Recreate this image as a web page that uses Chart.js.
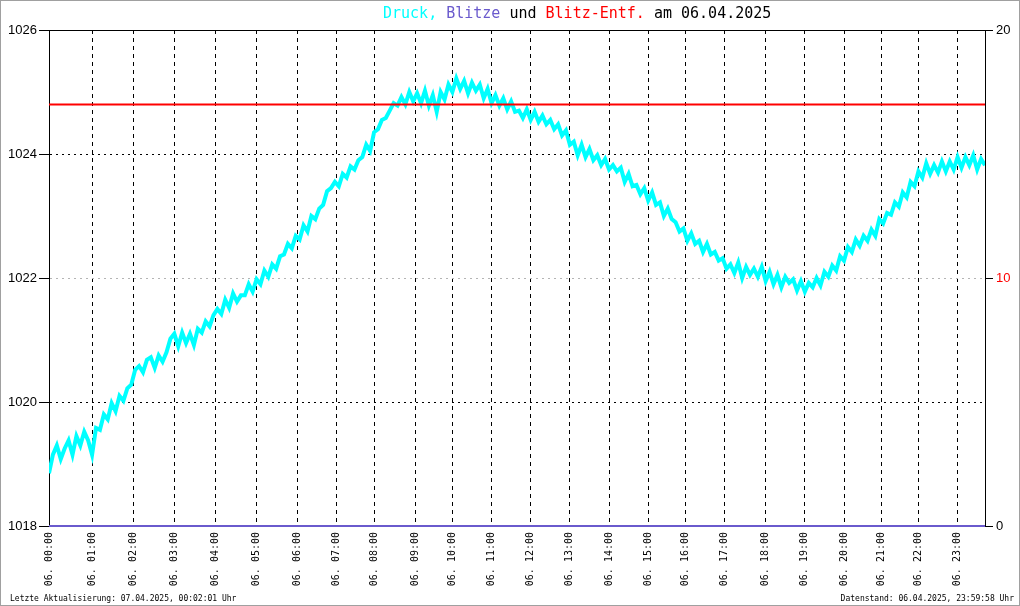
<!DOCTYPE html>
<html>
<head>
<meta charset="utf-8">
<script src="https://cdn.jsdelivr.net/npm/chart.js@4.4.1/dist/chart.umd.min.js"></script>
<style>
  html, body { margin: 0; padding: 0; background: #fff; }
  #wrap { position: relative; width: 1020px; height: 606px; box-sizing: border-box; border: 1px solid #a0a0a0; }
  canvas { display: block; }
</style>
</head>
<body>
<div id="wrap"><canvas id="chart" width="1018" height="604"></canvas></div>
<script>
// Luftdruck (hPa), one sample per ~3.9 px
const pressure = [
  1018.85, 1019.15, 1019.30, 1019.08, 1019.25, 1019.38, 1019.15, 1019.45, 1019.30, 1019.52,
  1019.38, 1019.15, 1019.58, 1019.55, 1019.80, 1019.72, 1019.98, 1019.85, 1020.10, 1020.02,
  1020.22, 1020.28, 1020.52, 1020.58, 1020.48, 1020.68, 1020.72, 1020.55, 1020.75, 1020.65,
  1020.80, 1021.02, 1021.10, 1020.90, 1021.12, 1020.95, 1021.10, 1020.92, 1021.18, 1021.12,
  1021.30, 1021.22, 1021.40, 1021.50, 1021.42, 1021.65, 1021.52, 1021.75, 1021.62, 1021.72,
  1021.72, 1021.90, 1021.78, 1021.98, 1021.90, 1022.12, 1022.02, 1022.22, 1022.15, 1022.35,
  1022.38, 1022.55, 1022.48, 1022.68, 1022.62, 1022.85, 1022.75, 1023.00, 1022.95, 1023.12,
  1023.18, 1023.40, 1023.45, 1023.55, 1023.48, 1023.68, 1023.62, 1023.80, 1023.75, 1023.90,
  1023.95, 1024.15, 1024.05, 1024.35, 1024.40, 1024.55, 1024.58, 1024.70, 1024.82, 1024.78,
  1024.92, 1024.80, 1025.00, 1024.85, 1024.98, 1024.82, 1025.02, 1024.78, 1024.95, 1024.68,
  1025.00, 1024.88, 1025.12, 1025.00, 1025.22, 1025.05, 1025.18, 1024.98, 1025.15, 1025.02,
  1025.12, 1024.90, 1025.05, 1024.82, 1024.95, 1024.78, 1024.90, 1024.72, 1024.85, 1024.68,
  1024.70, 1024.58, 1024.72, 1024.55, 1024.68, 1024.52, 1024.62, 1024.48, 1024.55, 1024.40,
  1024.48, 1024.30, 1024.38, 1024.15, 1024.20, 1023.98, 1024.15, 1023.95, 1024.08, 1023.90,
  1023.98, 1023.82, 1023.92, 1023.75, 1023.82, 1023.72, 1023.78, 1023.55, 1023.68, 1023.48,
  1023.50, 1023.35, 1023.45, 1023.25, 1023.38, 1023.18, 1023.22, 1023.00, 1023.12, 1022.95,
  1022.90, 1022.75, 1022.80, 1022.60, 1022.72, 1022.55, 1022.60, 1022.42, 1022.55, 1022.38,
  1022.42, 1022.28, 1022.32, 1022.15, 1022.22, 1022.08, 1022.25, 1022.00, 1022.18, 1022.05,
  1022.15, 1022.02, 1022.18, 1021.95, 1022.10, 1021.90, 1022.05, 1021.85, 1022.02, 1021.92,
  1021.98, 1021.80, 1021.95, 1021.78, 1021.92, 1021.85, 1022.00, 1021.88, 1022.10, 1022.02,
  1022.20, 1022.12, 1022.35, 1022.28, 1022.50, 1022.42, 1022.62, 1022.52, 1022.68, 1022.60,
  1022.78, 1022.68, 1022.95, 1022.88, 1023.05, 1023.02, 1023.22, 1023.15, 1023.38, 1023.30,
  1023.55, 1023.48, 1023.72, 1023.62, 1023.85, 1023.68, 1023.82, 1023.70, 1023.88, 1023.72,
  1023.88, 1023.75, 1023.95, 1023.78, 1023.95, 1023.82, 1023.98, 1023.75, 1023.92, 1023.82
];
const blitze = 0;        // keine Blitze
const blitzEntf = 17;    // Blitz-Entfernung (rechte Achse)

// hour marks, as sample index where each hour starts
const hourPos = [0, 11, 21.5, 32, 42.5, 53, 63.5, 73.5, 83, 93.5, 103, 113,
                 123, 133, 143, 153, 162.5, 172.5, 183, 193, 203, 212.5, 222, 232];
const hourLabels = ['00','01','02','03','04','05','06','07','08','09','10','11',
                    '12','13','14','15','16','17','18','19','20','21','22','23'].map(h => '06. ' + h + ':00');

const leftTicks = [1018, 1020, 1022, 1024, 1026];
const rightTicks = [0, 10, 20];

const lastIdx = pressure.length - 1;
const mono = '"DejaVu Sans Mono", monospace';
const sans = '"Liberation Sans", Arial, sans-serif';

const frameText = {
  id: 'frameText',
  afterDraw(chart) {
    const ctx = chart.ctx;
    const a = chart.chartArea;
    ctx.save();
    // top border of plot
    ctx.strokeStyle = '#000';
    ctx.lineWidth = 1;
    ctx.beginPath();
    ctx.moveTo(a.left, a.top + 0.5);
    ctx.lineTo(a.right, a.top + 0.5);
    ctx.stroke();

    // coloured title
    const parts = [
      ['Druck, ', '#00ffff'], ['Blitze ', '#6a5acd'], ['und ', '#000'],
      ['Blitz-Entf. ', '#ff0000'], ['am 06.04.2025', '#000']
    ];
    ctx.font = '15px ' + mono;
    ctx.textBaseline = 'middle';
    let x = 382;
    parts.forEach(([t, c]) => {
      ctx.fillStyle = c;
      ctx.fillText(t, x, 13);
      x += ctx.measureText(t).width;
    });

    // footer
    ctx.font = '8px ' + mono;
    ctx.fillStyle = '#000';
    ctx.textAlign = 'left';
    ctx.fillText('Letzte Aktualisierung: 07.04.2025, 00:02:01 Uhr', 9, 598);
    ctx.textAlign = 'right';
    ctx.fillText('Datenstand: 06.04.2025, 23:59:58 Uhr', 1013, 598);
    ctx.restore();
  }
};

const ctx = document.getElementById('chart').getContext('2d');
new Chart(ctx, {
  type: 'line',
  data: {
    datasets: [{
      label: 'Blitz-Entf.',
      data: [{ x: 0, y: blitzEntf }, { x: lastIdx, y: blitzEntf }],
      yAxisID: 'y2',
      borderColor: '#ff0000',
      borderWidth: 2,
      pointRadius: 0
    }, {
      label: 'Blitze',
      data: [{ x: 0, y: blitze }, { x: lastIdx, y: blitze }],
      yAxisID: 'y2',
      borderColor: '#6a5acd',
      borderWidth: 2,
      pointRadius: 0,
      clip: 4
    }, {
      label: 'Druck',
      data: pressure.map((v, i) => ({ x: i, y: v })),
      yAxisID: 'y',
      borderColor: '#00ffff',
      borderWidth: 4,
      borderJoinStyle: 'miter',
      tension: 0,
      pointRadius: 0
    }]
  },
  options: {
    responsive: false,
    animation: false,
    events: [],
    layout: { padding: { top: 29, left: 0, right: 0, bottom: 0 } },
    plugins: { legend: { display: false }, tooltip: { enabled: false } },
    scales: {
      x: {
        type: 'linear',
        min: 0,
        max: lastIdx,
        afterBuildTicks: (s) => { s.ticks = hourPos.map(v => ({ value: v })); },
        afterFit: (s) => { s.height = 79; },
        grid: {
          color: (c) => (c.tick && c.tick.value === 0 ? 'rgba(0,0,0,0)' : '#000'),
          drawTicks: false
        },
        border: { display: true, color: '#000', width: 1, dash: [4, 4] },
        ticks: {
          autoSkip: false,
          minRotation: 90,
          maxRotation: 90,
          padding: 6,
          color: '#000',
          font: { family: mono, size: 10 },
          callback: (v) => hourLabels[hourPos.indexOf(v)]
        }
      },
      y: {
        position: 'left',
        min: 1018,
        max: 1026,
        afterBuildTicks: (s) => { s.ticks = leftTicks.map(v => ({ value: v })); },
        afterFit: (s) => { s.width = 48; },
        grid: {
          color: (c) => {
            const v = c.tick && c.tick.value;
            if (v === 1018 || v === 1026) return 'rgba(0,0,0,0)';
            return v === 1022 ? '#b4b4b4' : '#000';
          },
          tickColor: '#000',
          tickLength: 10
        },
        border: { display: true, color: '#000', width: 1, dash: [2, 4] },
        ticks: {
          padding: 2,
          color: '#000',
          font: { family: sans, size: 13 },
          callback: (v) => String(v)
        }
      },
      y2: {
        position: 'right',
        min: 0,
        max: 20,
        afterBuildTicks: (s) => { s.ticks = rightTicks.map(v => ({ value: v })); },
        afterFit: (s) => { s.width = 34; },
        grid: { drawOnChartArea: false, tickColor: '#000', tickLength: 8 },
        border: { display: true, color: '#000', width: 1 },
        ticks: {
          padding: 3,
          color: (c) => (c.tick && c.tick.value === 10 ? '#ff0000' : '#000'),
          font: { family: sans, size: 13 },
          callback: (v) => String(v)
        }
      }
    }
  },
  plugins: [frameText]
});
</script>
</body>
</html>
